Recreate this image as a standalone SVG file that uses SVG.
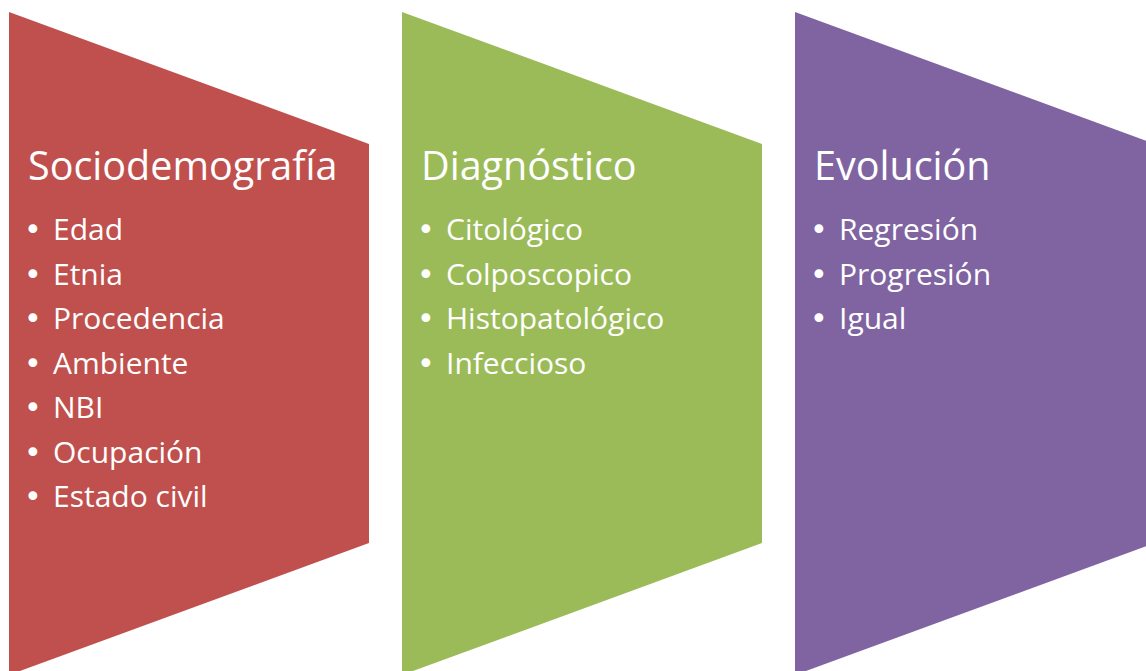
<svg xmlns="http://www.w3.org/2000/svg" width="1146" height="671" viewBox="0 0 1146 671">
<style>
.title{font-family:"Open Sans","Noto Sans",sans-serif;font-size:39.5px;fill:#fff}
.item{font-family:"Open Sans","Noto Sans",sans-serif;font-size:30px;fill:#fff}
.b{font-family:"DejaVu Sans",sans-serif;font-size:30px}
</style>
<rect width="1146" height="671" fill="#fff"/>
<g id="sociodemografia">
<polygon points="9,12 369,144 369,543 9,675" fill="#C0504D"/>
<text class="title" x="28" y="180">Sociodemografía</text>
<text class="item" y="240"><tspan class="b" x="24">•</tspan><tspan x="53">Edad</tspan></text>
<text class="item" y="284.5"><tspan class="b" x="24">•</tspan><tspan x="53">Etnia</tspan></text>
<text class="item" y="329"><tspan class="b" x="24">•</tspan><tspan x="53">Procedencia</tspan></text>
<text class="item" y="373.5"><tspan class="b" x="24">•</tspan><tspan x="53">Ambiente</tspan></text>
<text class="item" y="418"><tspan class="b" x="24">•</tspan><tspan x="53">NBI</tspan></text>
<text class="item" y="462.5"><tspan class="b" x="24">•</tspan><tspan x="53">Ocupación</tspan></text>
<text class="item" y="507"><tspan class="b" x="24">•</tspan><tspan x="53">Estado civil</tspan></text>
</g>
<g id="diagnostico">
<polygon points="402,12 762,144 762,543 402,675" fill="#9BBB59"/>
<text class="title" x="421" y="180">Diagnóstico</text>
<text class="item" y="240"><tspan class="b" x="417">•</tspan><tspan x="446">Citológico</tspan></text>
<text class="item" y="284.5"><tspan class="b" x="417">•</tspan><tspan x="446">Colposcopico</tspan></text>
<text class="item" y="329"><tspan class="b" x="417">•</tspan><tspan x="446">Histopatológico</tspan></text>
<text class="item" y="373.5"><tspan class="b" x="417">•</tspan><tspan x="446">Infeccioso</tspan></text>
</g>
<g id="evolucion">
<polygon points="795,12 1155,144 1155,543 795,675" fill="#8064A2"/>
<text class="title" x="814" y="180">Evolución</text>
<text class="item" y="240"><tspan class="b" x="810">•</tspan><tspan x="839">Regresión</tspan></text>
<text class="item" y="284.5"><tspan class="b" x="810">•</tspan><tspan x="839">Progresión</tspan></text>
<text class="item" y="329"><tspan class="b" x="810">•</tspan><tspan x="839">Igual</tspan></text>
</g>
<g id="connectors"></g>
</svg>
